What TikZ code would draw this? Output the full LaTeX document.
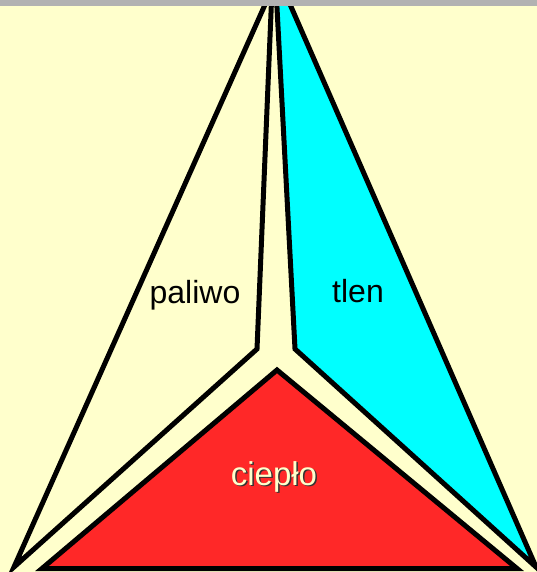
\documentclass[tikz,border=0pt]{standalone}
\usepackage{fontspec}
\setmainfont{Liberation Sans}
\definecolor{bg}{RGB}{255,255,204}
\definecolor{cyanf}{RGB}{0,255,255}
\definecolor{redf}{RGB}{255,40,40}
\definecolor{topbar}{RGB}{178,178,178}
\begin{document}
\begin{tikzpicture}[x=1pt,y=-1pt,
  tri/.style={draw=black,line width=5pt,line join=miter},
  lbl/.style={font=\fontsize{32}{38}\selectfont,anchor=base,inner sep=0pt}]
\useasboundingbox (0,0) rectangle (537,572);
\begin{scope}
\clip (0,0) rectangle (537,572);
\fill[bg] (0,0) rectangle (537,572);
\filldraw[tri,fill=bg] (272,-11) -- (257,349) -- (14,567) -- cycle;
\filldraw[tri,fill=cyanf] (275,-30) -- (295,349) -- (536,567) -- cycle;
\filldraw[tri,fill=redf] (277,370) -- (42,568.5) -- (517,568.5) -- cycle;
\fill[topbar] (0,0) rectangle (537,6);
\end{scope}
\node[lbl] (paliwo) at (195,303) {paliwo};
\node[lbl] (tlen) at (358,302) {tlen};
\node[lbl,font=\fontsize{33}{38}\selectfont,text=black!80] (cieploshadow) at (275.5,486.5) {ciepło};
\node[lbl,font=\fontsize{33}{38}\selectfont,text=bg] (cieplo) at (274,485) {ciepło};
\end{tikzpicture}
\end{document}
